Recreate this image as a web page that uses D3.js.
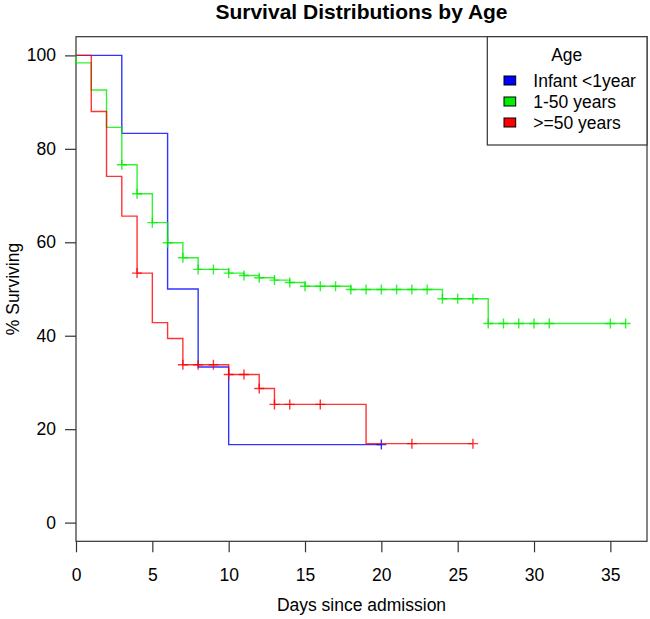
<!DOCTYPE html>
<html>
<head>
<meta charset="utf-8">
<script src="https://cdn.jsdelivr.net/npm/d3@7"></script>
<style>
  html, body { margin: 0; padding: 0; background: #fff; }
  svg { display: block; font-family: "Liberation Sans", Arial, sans-serif; }
</style>
</head>
<body>
<svg id="chart" width="650" height="619"></svg>
<script>
// ---- data ----
const seriesNames = ["Infant <1year", "1-50 years", ">=50 years"];
const seriesColors = ["#0000ff", "#00ee00", "#ff0000"];

const infantTimes = [0, 3, 6, 8, 10];
const infantSurv  = [100, 83.3, 50, 33.3, 16.7];
const infantEnd   = 20;
const infantCensor = [20];

const midTimes = [0, 0, 1, 2, 3, 4, 5, 6, 7, 8, 10, 11, 12, 13, 14, 15, 18, 24, 27];
const midSurv  = [100, 98.4, 92.6, 84.6, 76.6, 70.4, 64.2, 59.9, 56.7, 54.2, 53.4, 52.9, 52.4, 51.9, 51.4, 50.6, 49.9, 47.9, 42.6];
const midEnd   = 36;
const midCensor = [3, 4, 5, 6, 7, 8, 9, 10, 11, 12, 13, 14, 15, 16, 17, 18, 19, 20, 21, 22, 23, 24, 25, 26, 27, 28, 29, 30, 31, 35, 36];

const oldTimes = [0, 1, 2, 3, 4, 5, 6, 7, 10, 12, 13, 19];
const oldSurv  = [100, 88.0, 74.1, 65.6, 53.4, 42.8, 39.4, 33.8, 31.7, 28.7, 25.3, 16.9];
const oldEnd   = 26;
const oldCensor = [4, 7, 8, 9, 10, 11, 12, 13, 14, 16, 22, 26];

const xTicks = [0, 5, 10, 15, 20, 25, 30, 35];
const yTicks = [0, 20, 40, 60, 80, 100];

const titleText = "Survival Distributions by Age";
const xLabel = "Days since admission";
const yLabel = "% Surviving";
const legendTitle = "Age";

// ---- layout ----
const box = { left: 76, right: 647, top: 36.7, bottom: 541.3 };
const svg = d3.select("#chart");

const x = d3.scaleLinear().domain([0, 37.4]).range([box.left, box.right]);
const y = d3.scaleLinear().domain([-4, 104]).range([box.bottom, box.top]);

const fontSize = 17.5;

// axes
const xAxis = d3.axisBottom(x).tickValues(xTicks).tickSize(11).tickPadding(16).tickSizeOuter(0);
const gx = svg.append("g").attr("transform", `translate(0,${box.bottom})`).call(xAxis);
gx.select(".domain").remove();
gx.selectAll("line").attr("stroke", "#333").attr("stroke-width", 1.2);
gx.selectAll("text").attr("font-size", fontSize).attr("fill", "#000").attr("font-family", "Liberation Sans, Arial, sans-serif");

const yAxis = d3.axisLeft(y).tickValues(yTicks).tickSize(11).tickPadding(9).tickSizeOuter(0);
const gy = svg.append("g").attr("transform", `translate(${box.left},0)`).call(yAxis);
gy.select(".domain").remove();
gy.selectAll("line").attr("stroke", "#333").attr("stroke-width", 1.2);
gy.selectAll("text").attr("font-size", fontSize).attr("fill", "#000").attr("font-family", "Liberation Sans, Arial, sans-serif");

// plot box
svg.append("rect")
  .attr("x", box.left).attr("y", box.top)
  .attr("width", box.right - box.left).attr("height", box.bottom - box.top)
  .attr("fill", "none").attr("stroke", "#333").attr("stroke-width", 1.2);

// KM curves
const series = [
  { times: infantTimes, surv: infantSurv, end: infantEnd, censor: infantCensor },
  { times: midTimes, surv: midSurv, end: midEnd, censor: midCensor },
  { times: oldTimes, surv: oldSurv, end: oldEnd, censor: oldCensor }
];

function survAt(s, t) {
  let v = s.surv[0];
  for (let i = 0; i < s.times.length; i++) if (s.times[i] <= t) v = s.surv[i];
  return v;
}

const line = d3.line().curve(d3.curveStepAfter).x(d => x(d[0])).y(d => y(d[1]));

series.forEach((s, i) => {
  const pts = s.times.map((t, j) => [t, s.surv[j]]);
  pts.push([s.end, s.surv[s.surv.length - 1]]);
  svg.append("path").datum(pts)
    .attr("d", line)
    .attr("fill", "none")
    .attr("stroke", seriesColors[i])
    .attr("stroke-width", 1.4)
    .attr("stroke-opacity", 0.8);
  const arm = 5;
  const g = svg.append("g");
  s.censor.forEach(t => {
    const cx = x(t), cy = y(survAt(s, t));
    g.append("path")
      .attr("d", `M${cx - arm},${cy}H${cx + arm}M${cx},${cy - arm}V${cy + arm}`)
      .attr("stroke", seriesColors[i])
      .attr("stroke-width", 1.4)
      .attr("stroke-opacity", 0.8)
      .attr("fill", "none");
  });
});

// title & labels
svg.append("text")
  .attr("x", (box.left + box.right) / 2).attr("y", 19)
  .attr("text-anchor", "middle").attr("font-size", 21).attr("font-weight", "bold")
  .text(titleText);

svg.append("text")
  .attr("x", (box.left + box.right) / 2).attr("y", 611)
  .attr("text-anchor", "middle").attr("font-size", fontSize)
  .text(xLabel);

svg.append("text")
  .attr("transform", `translate(19,${(box.top + box.bottom) / 2}) rotate(-90)`)
  .attr("text-anchor", "middle").attr("font-size", fontSize)
  .text(yLabel);

// legend
const lg = { left: 487.3, top: box.top, right: box.right, bottom: 145 };
svg.append("rect")
  .attr("x", lg.left).attr("y", lg.top)
  .attr("width", lg.right - lg.left).attr("height", lg.bottom - lg.top)
  .attr("fill", "#fff").attr("stroke", "#333").attr("stroke-width", 1.2);

svg.append("text")
  .attr("x", 566.7).attr("y", 61)
  .attr("text-anchor", "middle").attr("font-size", fontSize)
  .text(legendTitle);

const rowY = [80.5, 101.5, 122.5];
seriesNames.forEach((name, i) => {
  svg.append("rect")
    .attr("x", 504).attr("y", rowY[i] - 4.5)
    .attr("width", 11.7).attr("height", 9)
    .attr("fill", seriesColors[i]).attr("stroke", "#000").attr("stroke-width", 1);
  svg.append("text")
    .attr("x", 533.3).attr("y", rowY[i] + 6.3)
    .attr("font-size", fontSize)
    .text(name);
});
</script>
</body>
</html>
